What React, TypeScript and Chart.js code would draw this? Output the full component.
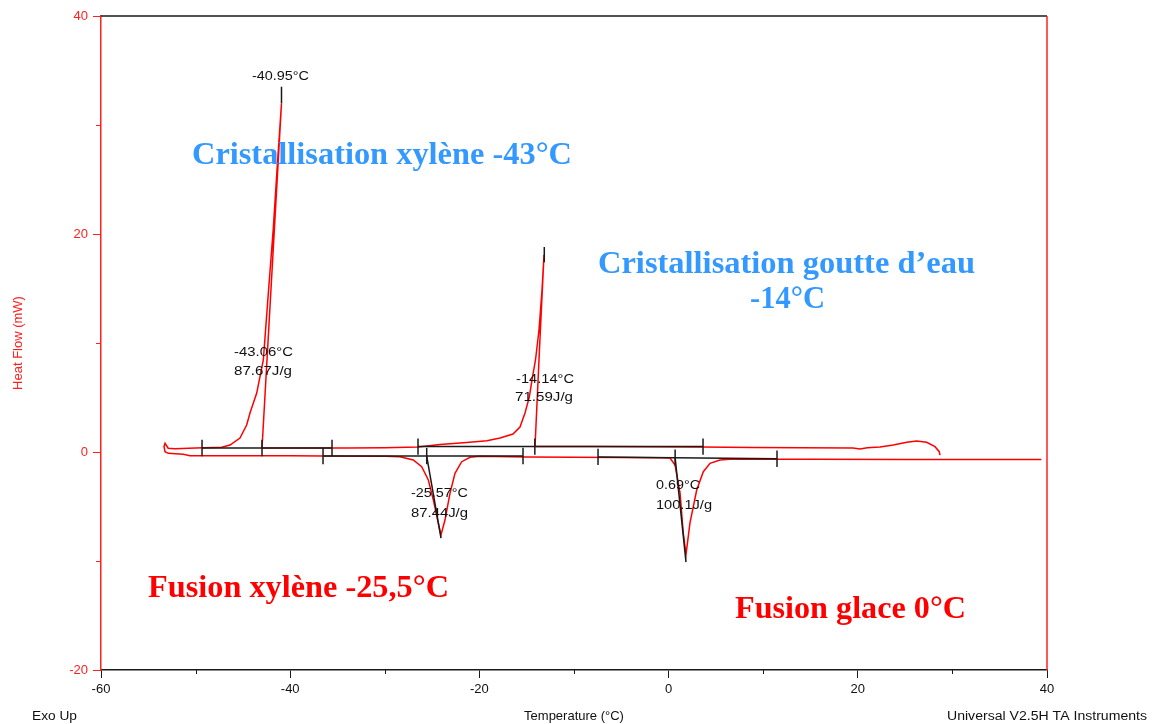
import React, { useEffect, useRef } from 'react';
import { Chart, registerables } from 'chart.js';

Chart.register(...registerables);

// ---- DSC trace (cooling run right→left, then heating run left→right) ----
const curveTemp = [
  28.69, 28.61, 28.16, 27.28, 26.23, 25.17, 23.75, 22.35, 21.0, 20.23, 19.49, 14.0, 8.92, 3.32, -2.0, -8.0, -12.0, -14.12,
  -13.65, -13.17,
  -13.38, -13.7, -14.07, -14.44, -14.72, -15.18, -15.71, -16.45, -17.82, -19.2, -21.34, -24.17, -26.49, -30.0, -34.0, -38.0, -42.98,
  -40.92,
  -41.4, -41.78, -42.31, -42.84, -43.54, -44.25, -44.6, -45.31, -46.36, -47.24, -50.0, -52.18, -52.9, -53.23, -53.34, -53.23, -52.89, -51.3, -50.59,
  -45.0, -40.0, -36.5, -30.0, -28.39, -26.99, -26.1, -25.4, -24.87, -24.34, -24.06, -23.64, -23.11, -22.58, -21.87, -20.99, -19.94,
  -15.0, -10.0, -5.0, -1.0, 0.15, 0.68, 1.21, 1.55, 1.84, 2.26, 2.97, 3.67, 4.38, 5.43, 6.49, 15.0, 25.0, 39.4,
];
const curveHeatFlow = [
  -0.28, 0.03, 0.49, 0.89, 1.01, 0.89, 0.64, 0.45, 0.4, 0.28, 0.37, 0.4, 0.42, 0.46, 0.48, 0.5, 0.5, 0.5,
  9.4, 18.1,
  14.86, 11.19, 8.44, 6.61, 5.05, 3.58, 2.29, 1.65, 1.28, 1.04, 0.87, 0.69, 0.46, 0.39, 0.37, 0.37, 0.37,
  32.0,
  25.8, 20.6, 14.6, 8.44, 5.41, 3.58, 2.48, 1.28, 0.64, 0.43, 0.37, 0.3, 0.35, 0.8, 0.49, 0.03, -0.12, -0.21, -0.34,
  -0.34, -0.34, -0.36, -0.38, -0.43, -0.73, -1.35, -2.57, -4.4, -6.54, -7.61, -6.24, -3.79, -1.95, -0.89, -0.49, -0.4,
  -0.45, -0.48, -0.5, -0.52, -0.55, -1.19, -3.76, -7.43, -9.4, -6.51, -3.49, -1.81, -1.04, -0.73, -0.67, -0.67, -0.68, -0.68,
];

// ---- integration baselines (start/end temperature and heat flow) ----
const baselineStartT = [-49.32, -26.49, -36.53, -7.46];
const baselineEndT = [-35.58, 3.64, -15.39, 11.46];
const baselineStartV = [0.37, 0.5, -0.37, -0.45];
const baselineEndV = [0.37, 0.5, -0.37, -0.62];

// ---- limit / onset markers on the baselines ----
const markerT = [-49.32, -42.98, -35.58, -26.49, -14.14, 3.64, -36.53, -25.57, -15.39, -7.46, 0.69, 11.46];
const markerV = [0.37, 0.37, 0.37, 0.5, 0.5, 0.5, -0.37, -0.37, -0.37, -0.45, -0.52, -0.62];

// ---- peak / tangent lines ----
const peakLineT1 = [-40.92, -13.14, -25.57, 0.69];
const peakLineV1 = [33.5, 18.8, -0.37, -0.52];
const peakLineT2 = [-40.92, -13.14, -24.06, 1.84];
const peakLineV2 = [32.0, 17.4, -7.9, -10.1];

// ---- axis ticks ----
const xMin = -60, xMax = 40, xStep = 20;
const yMin = -20, yMax = 40, yStep = 20;
const xMinorTicks = [-50, -30, -10, 10, 30];
const yMinorTicks = [30, 10, -10];

// ---- texts ----
const peakLabelTexts = ['-40.95°C', '-43.06°C', '87.67J/g', '-14.14°C', '71.59J/g', '-25.57°C', '87.44J/g', '0.69°C', '100.1J/g'];
const eventTexts = ['Cristallisation xylène -43°C', 'Cristallisation goutte d’eau', '-14°C', 'Fusion xylène -25,5°C', 'Fusion glace 0°C'];
const footerTexts = ['Exo Up', 'Universal V2.5H TA Instruments'];

// layout of texts: [left, right, centerY] in canvas pixels
const peakLabelBoxes = [
  [252, 309, 77], [234, 293, 353], [234, 292, 372], [516, 574, 380], [515, 573, 398],
  [411, 468, 494], [411, 468, 514], [656, 700, 486], [656, 712, 506],
];
const eventBoxes = [[192, 572, 156], [598, 975, 265], [750, 825, 300], [148, 449, 589], [735, 966, 610]];
const eventColors = ['#3399ff', '#3399ff', '#3399ff', '#ff0000', '#ff0000'];
const footerBoxes = [[32, 77, 717], [947, 1147, 717]];

const RED = '#ff2020';
const BLACK = '#1a1a1a';
const SANS = '"Liberation Sans", Arial, sans-serif';
const SERIF = '"Liberation Serif", "Times New Roman", serif';

function drawFitted(ctx: CanvasRenderingContext2D, text: string, box: number[], font: string, color: string) {
  ctx.save();
  ctx.font = font;
  const w = ctx.measureText(text).width;
  const sx = (box[1] - box[0]) / w;
  ctx.translate(box[0], box[2]);
  ctx.scale(sx, 1);
  ctx.fillStyle = color;
  ctx.textAlign = 'left';
  ctx.textBaseline = 'middle';
  ctx.fillText(text, 0, 0);
  ctx.restore();
}

const decorPlugin = {
  id: 'decor',
  afterDraw(chart: any) {
    const { ctx, chartArea: a, scales } = chart;
    const xs = scales.x;
    const ys = scales.y;
    ctx.save();
    ctx.lineWidth = 1.5;
    ctx.strokeStyle = BLACK;
    ctx.beginPath();
    ctx.moveTo(a.left, a.top);
    ctx.lineTo(a.right, a.top);
    ctx.stroke();
    ctx.strokeStyle = RED;
    ctx.beginPath();
    ctx.moveTo(a.right, a.top);
    ctx.lineTo(a.right, a.bottom);
    ctx.stroke();
    ctx.lineWidth = 1;
    ctx.strokeStyle = BLACK;
    for (const t of xMinorTicks) {
      const px = Math.round(xs.getPixelForValue(t)) + 0.5;
      ctx.beginPath();
      ctx.moveTo(px, a.bottom);
      ctx.lineTo(px, a.bottom + 4);
      ctx.stroke();
    }
    ctx.strokeStyle = RED;
    for (const v of yMinorTicks) {
      const py = Math.round(ys.getPixelForValue(v)) + 0.5;
      ctx.beginPath();
      ctx.moveTo(a.left - 5, py);
      ctx.lineTo(a.left, py);
      ctx.stroke();
    }
    peakLabelTexts.forEach((t, i) => drawFitted(ctx, t, peakLabelBoxes[i], `12px ${SANS}`, '#111'));
    eventTexts.forEach((t, i) => drawFitted(ctx, t, eventBoxes[i], `bold 31px ${SERIF}`, eventColors[i]));
    footerTexts.forEach((t, i) => drawFitted(ctx, t, footerBoxes[i], `12px ${SANS}`, '#111'));
    ctx.restore();
  },
};

export default function App() {
  const canvasRef = useRef<HTMLCanvasElement | null>(null);

  useEffect(() => {
    const canvas = canvasRef.current;
    if (!canvas) return;

    const line = (pts: { x: number; y: number }[]) => ({
      data: pts,
      showLine: true,
      borderColor: BLACK,
      borderWidth: 1.5,
      pointRadius: 0,
      order: 0,
    });

    const annot: any[] = [];
    baselineStartT.forEach((t, i) => {
      annot.push(line([{ x: t, y: baselineStartV[i] }, { x: baselineEndT[i], y: baselineEndV[i] }]));
    });
    markerT.forEach((t, i) => {
      annot.push(line([{ x: t, y: markerV[i] - 0.75 }, { x: t, y: markerV[i] + 0.75 }]));
    });
    peakLineT1.forEach((t, i) => {
      annot.push(line([{ x: t, y: peakLineV1[i] }, { x: peakLineT2[i], y: peakLineV2[i] }]));
    });

    const chart = new Chart(canvas, {
      type: 'scatter',
      data: {
        datasets: [
          ...annot,
          {
            data: curveTemp.map((t, i) => ({ x: t, y: curveHeatFlow[i] })),
            showLine: true,
            borderColor: '#ff0000',
            borderWidth: 1.5,
            pointRadius: 0,
            tension: 0,
            order: 10,
          },
        ],
      },
      options: {
        animation: false,
        responsive: false,
        maintainAspectRatio: false,
        layout: { padding: { left: 0, top: 16, right: 107, bottom: 0 } },
        plugins: { legend: { display: false }, tooltip: { enabled: false } },
        elements: { point: { radius: 0 } },
        scales: {
          x: {
            type: 'linear',
            min: xMin,
            max: xMax,
            ticks: { stepSize: xStep, color: '#111', font: { family: SANS, size: 13 }, padding: 4, maxRotation: 0 },
            grid: { drawOnChartArea: false, drawTicks: true, tickLength: 8, tickColor: BLACK, tickWidth: 1 },
            border: { color: BLACK, width: 1.5 },
            title: { display: true, text: 'Temperature (°C)', color: '#111', font: { family: SANS, size: 13 }, padding: { top: 0, bottom: 0 } },
            afterFit: (s: any) => { s.height = 54; },
          },
          y: {
            type: 'linear',
            min: yMin,
            max: yMax,
            ticks: { stepSize: yStep, color: RED, font: { family: SANS, size: 13 }, padding: 5 },
            grid: { drawOnChartArea: false, drawTicks: true, tickLength: 8, tickColor: RED, tickWidth: 1 },
            border: { color: RED, width: 1.5 },
            title: { display: true, text: 'Heat Flow (mW)', color: RED, font: { family: SANS, size: 13 }, padding: { top: 11, bottom: 0 } },
            afterFit: (s: any) => { s.width = 101; },
          },
        },
      },
      plugins: [decorPlugin],
    } as any);

    return () => chart.destroy();
  }, []);

  return (
    <div style={{ position: 'absolute', left: 0, top: 0, width: 1154, height: 724, background: '#fff' }}>
      <canvas ref={canvasRef} width={1154} height={724} />
    </div>
  );
}
